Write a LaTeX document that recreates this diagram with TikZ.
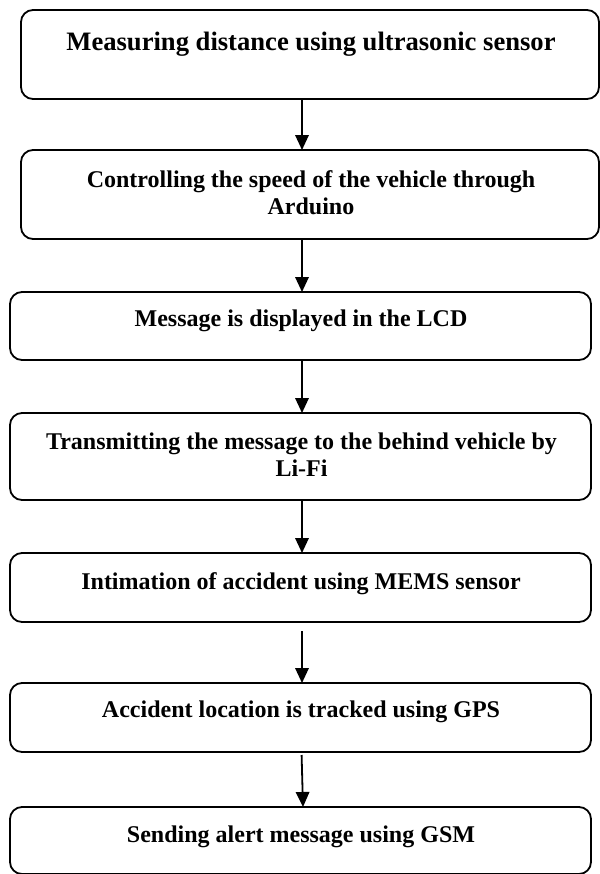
\documentclass[tikz,border=0pt]{standalone}
\usepackage{fontspec}
\setmainfont{Liberation Serif}
\usetikzlibrary{arrows.meta,calc}
\tikzset{
  flowbox/.style={draw=black, line width=1.8bp, rounded corners=12bp, rectangle,
    inner sep=0pt, outer sep=0pt, fill=white},
  widebox/.style={flowbox, minimum width=578bp},
  narrowbox/.style={flowbox, minimum width=581bp},
  lbl/.style={anchor=base, inner sep=0pt, font=\bfseries\fontsize{24bp}{27bp}\selectfont},
  titlelbl/.style={anchor=base, inner sep=0pt, font=\bfseries\fontsize{26.6bp}{30bp}\selectfont},
  arr/.style={draw=black, line width=1.8bp, -{Triangle[length=15bp,width=13.5bp]}}
}
\begin{document}
\begin{tikzpicture}[x=1bp,y=-1bp]
\useasboundingbox[fill=white] (0,0) rectangle (600,874);
% boxes
\node[widebox, minimum height=89bp] (b1) at (310,54.5) {};
\node[widebox, minimum height=89bp] (b2) at (310,194.5) {};
\node[narrowbox, minimum height=68bp] (b3) at (300.5,326) {};
\node[narrowbox, minimum height=87bp] (b4) at (300.5,456.5) {};
\node[narrowbox, minimum height=69bp] (b5) at (300.5,587.5) {};
\node[narrowbox, minimum height=69bp] (b6) at (300.5,717.5) {};
\node[narrowbox, minimum height=67bp] (b7) at (300.5,840.5) {};
% texts
\node[titlelbl] (t1) at (311,50) {Measuring distance using ultrasonic sensor};
\node[lbl] (t2a) at (311,187.4) {Controlling the speed of the vehicle through};
\node[lbl] (t2b) at (311,214.4) {Arduino};
\node[lbl] (t3) at (301,326.7) {Message is displayed in the LCD};
\node[lbl] (t4a) at (301.5,449) {Transmitting the message to the behind vehicle by};
\node[lbl] (t4b) at (301.5,476.3) {Li-Fi};
\node[lbl] (t5) at (301,589.5) {Intimation of accident using MEMS sensor};
\node[lbl] (t6) at (301,717.5) {Accident location is tracked using GPS};
\node[lbl] (t7) at (301,842.5) {Sending alert message using GSM};
% arrows
\coordinate (ax) at (302,0);
\coordinate (a6s) at (301.6,755);
\coordinate (a6e) at (303,0);
\draw[arr] (ax |- b1.south) -- (ax |- b2.north);
\draw[arr] (ax |- b2.south) -- (ax |- b3.north);
\draw[arr] (ax |- b3.south) -- (ax |- b4.north);
\draw[arr] (ax |- b4.south) -- (ax |- b5.north);
\draw[arr] ([yshift=-9bp]ax |- b5.south) -- (ax |- b6.north);
\draw[arr] (a6s) -- (a6e |- b7.north);
\end{tikzpicture}
\end{document}
